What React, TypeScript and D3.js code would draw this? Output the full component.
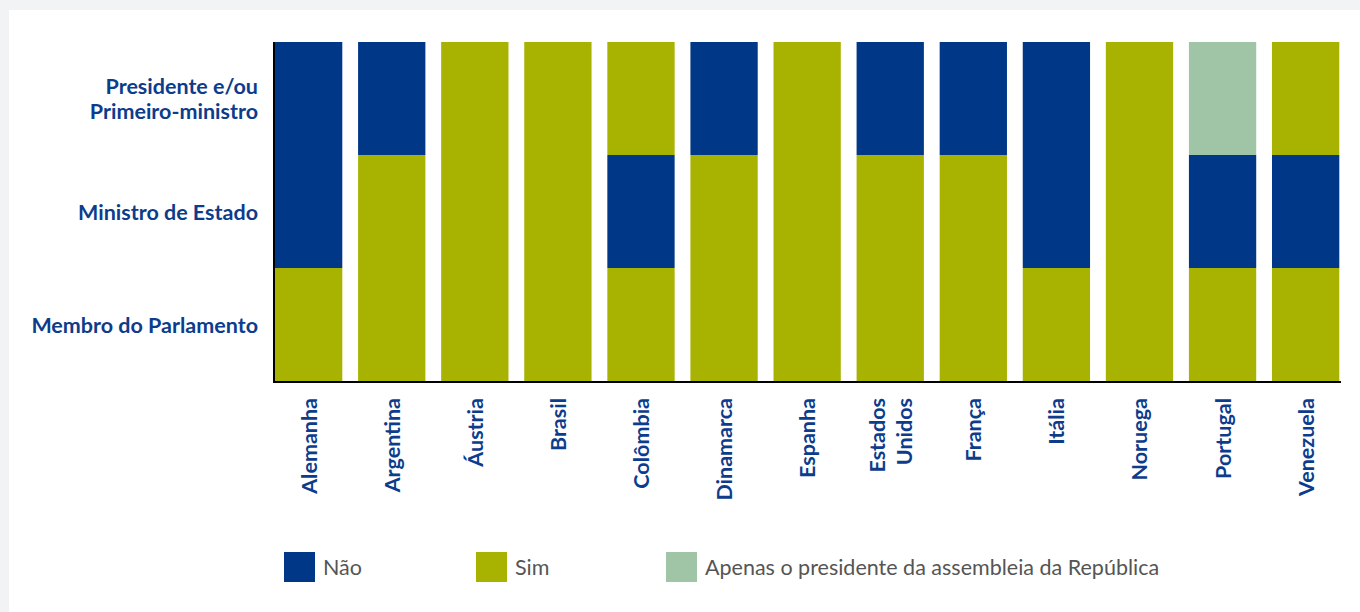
import React from "react";
import * as d3 from "d3";

const countries = ["Alemanha", "Argentina", "Áustria", "Brasil", "Colômbia", "Dinamarca", "Espanha", "Estados Unidos", "França", "Itália", "Noruega", "Portugal", "Venezuela"];
const levels = ["Membro do Parlamento", "Ministro de Estado", "Presidente e/ou Primeiro-ministro"];
const levelLabels = [["Membro do Parlamento"], ["Ministro de Estado"], ["Presidente e/ou", "Primeiro-ministro"]];
// answers per country: [Membro do Parlamento, Ministro de Estado, Presidente]
const parlamento = ["Sim", "Sim", "Sim", "Sim", "Sim", "Sim", "Sim", "Sim", "Sim", "Sim", "Sim", "Sim", "Sim"];
const ministro = ["Não", "Sim", "Sim", "Sim", "Não", "Sim", "Sim", "Sim", "Sim", "Não", "Sim", "Não", "Não"];
const presidente = ["Não", "Não", "Sim", "Sim", "Sim", "Não", "Sim", "Não", "Não", "Não", "Sim", "Apenas", "Sim"];
const legendKeys = ["Não", "Sim", "Apenas"];
const legendLabels = ["Não", "Sim", "Apenas o presidente da assembleia da República"];

const colors: Record<string, string> = { "Não": "#003787", "Sim": "#a7b300", "Apenas": "#9fc5a6" };
const labelColor = "#0d3c8c";

export default function App() {
  const W = 1360, H = 612;
  const x = d3.scaleBand<string>().domain(countries).range([275, 1339.3]).paddingInner(0.19).paddingOuter(0);
  const y = d3.scaleBand<string>().domain(levels).range([381, 42]).padding(0);
  const answers = [parlamento, ministro, presidente];
  const legendX = [284, 476, 666];
  const fs = 21.5;
  return (
    <svg width={W} height={H} style={{ position: "absolute", left: 0, top: 0, fontFamily: "Lato, 'Open Sans', sans-serif" }}>
      <rect x={0} y={0} width={W} height={H} fill="#f2f3f5" />
      <rect x={9} y={10} width={W - 9} height={H - 10} fill="#ffffff" />
      {countries.map((c, i) =>
        levels.map((l, j) => (
          <rect key={c + l} x={x(c)} y={y(l)} width={x.bandwidth()} height={y.bandwidth()} fill={colors[answers[j][i]]} />
        ))
      )}
      <line x1={274} x2={274} y1={42} y2={383} stroke="#000" strokeWidth={2} />
      <line x1={273} x2={1341} y1={382} y2={382} stroke="#000" strokeWidth={2} />
      {levels.map((l, j) => {
        const lines = levelLabels[j];
        const cy = (y(l) as number) + y.bandwidth() / 2;
        return (
          <text key={l} textAnchor="end" fill={labelColor} fontWeight={700} fontSize={fs}>
            {lines.length === 1 ? (
              <tspan x={258} y={cy + 8.5}>{lines[0]}</tspan>
            ) : (
              lines.map((t, k) => (
                <tspan key={k} x={258} y={cy - 4.5 + k * 25}>{t}</tspan>
              ))
            )}
          </text>
        );
      })}
      {countries.map((c) => {
        const cx = (x(c) as number) + x.bandwidth() / 2;
        const parts = c === "Estados Unidos" ? ["Estados", "Unidos"] : [c];
        const lh = 27;
        return (
          <g key={c}>
            {parts.map((p, k) => (
              <text key={k} transform={`translate(${cx + 8 + (k - (parts.length - 1) / 2) * lh},398) rotate(-90)`} textAnchor="end" fill={labelColor} fontWeight={700} fontSize={fs}>{p}</text>
            ))}
          </g>
        );
      })}
      {legendKeys.map((k, i) => (
        <g key={k}>
          <rect x={legendX[i]} y={552} width={31} height={30} fill={colors[k]} />
          <text x={legendX[i] + 39} y={575} fill="#555" fontSize={fs}>{legendLabels[i]}</text>
        </g>
      ))}
    </svg>
  );
}
